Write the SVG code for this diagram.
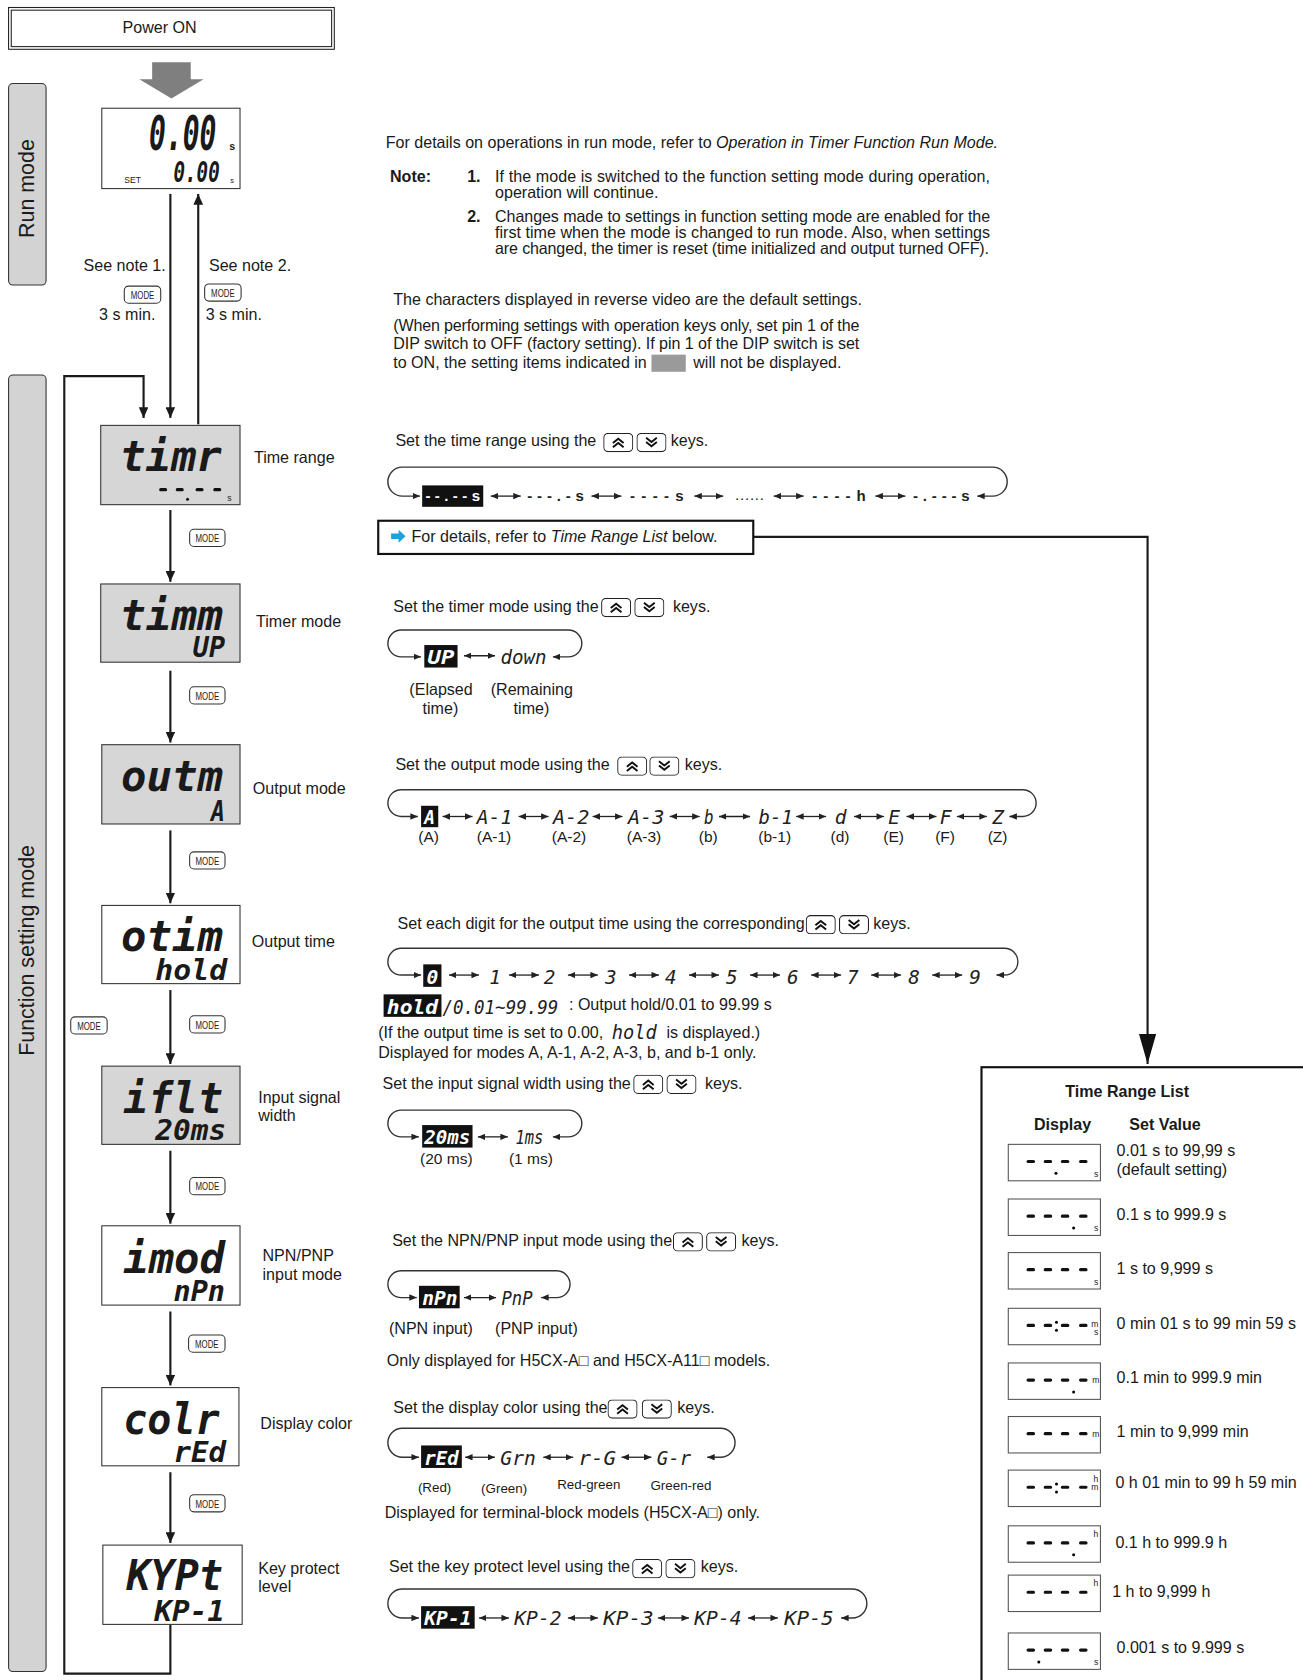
<svg xmlns="http://www.w3.org/2000/svg" xmlns:xlink="http://www.w3.org/1999/xlink" width="1303" height="1680" viewBox="0 0 1303 1680">
<style>
.t{font-family:"Liberation Sans",Arial,sans-serif;font-size:15px;fill:#1a1a1a}
.sm{font-size:14.5px}
.xs{font-size:12.5px}
.b{font-weight:bold}
.i{font-style:italic}
.lcd{font-family:"DejaVu Sans Mono",monospace;font-weight:bold;font-style:oblique;fill:#1a1a1a}
.seg{font-family:"DejaVu Sans Mono",monospace;font-style:oblique;font-size:18px;fill:#222}
.segw{font-family:"DejaVu Sans Mono",monospace;font-style:oblique;font-weight:bold;font-size:18px;fill:#fff}
.dash{font-family:"Liberation Sans",Arial,sans-serif;font-weight:bold;font-size:14px;fill:#222}
.dashw{font-family:"Liberation Sans",Arial,sans-serif;font-weight:bold;font-size:14px;fill:#fff}
.disp{stroke:#333;stroke-width:1}
.gray{fill:#d6d6d6}
.wh{fill:#fff}
.rev{fill:#111}
.side{fill:#d3d3d3;stroke:#333;stroke-width:1}
.flow{stroke:#1a1a1a;stroke-width:2;fill:none}
.loop{stroke:#333;stroke-width:1.3;fill:none}
.dbl{stroke:#222;stroke-width:1.2}
.mk rect{fill:#fff;stroke:#333;stroke-width:1}
.mk text{font-family:"Liberation Sans",Arial,sans-serif;font-size:9.5px;fill:#222}
.tb rect{fill:#fff;stroke:#555;stroke-width:1}
.sg{stroke:#111;stroke-width:3;stroke-linecap:round}
.un{font-family:"Liberation Sans",Arial,sans-serif;font-size:8px;fill:#222}
</style>
<defs>
<marker id="fa" markerUnits="userSpaceOnUse" markerWidth="10" markerHeight="9" refX="10" refY="4.5" orient="auto"><path d="M0,0 L10,4.5 L0,9 z" fill="#1a1a1a"/></marker>
<marker id="sa" markerUnits="userSpaceOnUse" markerWidth="7" markerHeight="6" refX="7" refY="3" orient="auto-start-reverse"><path d="M0,0 L7,3 L0,6 z" fill="#222"/></marker>
<marker id="big" markerUnits="userSpaceOnUse" markerWidth="28" markerHeight="16" refX="28" refY="8" orient="auto"><path d="M0,0 L28,8 L0,16 z" fill="#111"/></marker>
<symbol id="ku" viewBox="0 0 28 18"><rect x="0.5" y="0.5" width="27" height="17" rx="4" fill="#fff" stroke="#222"/><polyline points="9,9.5 14,5.5 19,9.5" fill="none" stroke="#111" stroke-width="1.8"/><polyline points="9,13.5 14,9.5 19,13.5" fill="none" stroke="#111" stroke-width="1.8"/></symbol>
<symbol id="kd" viewBox="0 0 28 18"><rect x="0.5" y="0.5" width="27" height="17" rx="4" fill="#fff" stroke="#222"/><polyline points="9,4.5 14,8.5 19,4.5" fill="none" stroke="#111" stroke-width="1.8"/><polyline points="9,8.5 14,12.5 19,8.5" fill="none" stroke="#111" stroke-width="1.8"/></symbol>
</defs>
<rect width="1303" height="1680" fill="#fff"/>
<g transform="scale(1.0715)">

<g id="power-on">
<rect x="8" y="7" width="304" height="39" fill="#fff" stroke="#222" stroke-width="1"/>
<rect x="10.5" y="9.5" width="299" height="34" fill="none" stroke="#222" stroke-width="1"/>
<text class="t" x="149" y="31" text-anchor="middle">Power ON</text>
<polygon points="142,58 178,58 178,74 190,74 160,92 130,74 142,74" fill="#7f7f7f"/>
</g>

<g id="run-mode-label">
<rect x="8" y="78" width="35" height="188" rx="4" class="side"/>
<text class="t" transform="translate(32,176) rotate(-90)" text-anchor="middle" style="font-size:20px">Run mode</text>
</g>
<g id="function-mode-label">
<rect x="8" y="350" width="35" height="1210" rx="4" class="side"/>
<text class="t" transform="translate(32,887) rotate(-90)" text-anchor="middle" style="font-size:20px">Function setting mode</text>
</g>

<g id="run-display">
<rect x="95" y="101" width="129" height="75" class="wh disp"/>
<text class="lcd" x="139" y="140" font-size="44" textLength="63" lengthAdjust="spacingAndGlyphs">0.00</text>
<text class="un" x="214" y="140" style="font-size:10px;font-weight:bold">s</text>
<text class="lcd" x="162" y="170" font-size="26" textLength="43" lengthAdjust="spacingAndGlyphs">0.00</text>
<text class="un" x="215" y="171" style="font-size:7px">s</text>
<text class="un" x="116" y="171">SET</text>
</g>

<g id="run-notes">
<text class="t" x="78" y="253">See note 1.</text>
<text class="t" x="195" y="253">See note 2.</text>
<text class="t" x="145" y="299" text-anchor="end">3 s min.</text>
<text class="t" x="192" y="299">3 s min.</text>
<g class="mk"><rect x="116" y="267" width="34" height="16" rx="4"/><text x="133" y="279" text-anchor="middle" textLength="22" lengthAdjust="spacingAndGlyphs">MODE</text></g>
<g class="mk"><rect x="191" y="265" width="34" height="16" rx="4"/><text x="208" y="277" text-anchor="middle" textLength="22" lengthAdjust="spacingAndGlyphs">MODE</text></g>
</g>

<g id="connectors">
<line class="flow" x1="159" y1="181" x2="159" y2="390" marker-end="url(#fa)"/>
<line class="flow" x1="185" y1="396" x2="185" y2="181" marker-end="url(#fa)"/>
<path class="flow" d="M159,1516 V1562 H60 V351 H134 V390" marker-end="url(#fa)"/>
<line class="flow" x1="159" y1="476" x2="159" y2="543" marker-end="url(#fa)"/>
<line class="flow" x1="159" y1="626" x2="159" y2="693" marker-end="url(#fa)"/>
<line class="flow" x1="159" y1="775" x2="159" y2="843" marker-end="url(#fa)"/>
<line class="flow" x1="159" y1="924" x2="159" y2="993" marker-end="url(#fa)"/>
<line class="flow" x1="159" y1="1074" x2="159" y2="1142" marker-end="url(#fa)"/>
<line class="flow" x1="159" y1="1224" x2="159" y2="1293" marker-end="url(#fa)"/>
<line class="flow" x1="159" y1="1374" x2="159" y2="1440" marker-end="url(#fa)"/>
<path class="flow" d="M703,501 H1071 V993" marker-end="url(#big)"/>
<g class="mk"><rect x="177" y="494" width="33" height="16" rx="4"/><text x="193.5" y="506" text-anchor="middle" textLength="22" lengthAdjust="spacingAndGlyphs">MODE</text></g>
<g class="mk"><rect x="177" y="641" width="33" height="16" rx="4"/><text x="193.5" y="653" text-anchor="middle" textLength="22" lengthAdjust="spacingAndGlyphs">MODE</text></g>
<g class="mk"><rect x="177" y="795" width="33" height="16" rx="4"/><text x="193.5" y="807" text-anchor="middle" textLength="22" lengthAdjust="spacingAndGlyphs">MODE</text></g>
<g class="mk"><rect x="177" y="948" width="33" height="16" rx="4"/><text x="193.5" y="960" text-anchor="middle" textLength="22" lengthAdjust="spacingAndGlyphs">MODE</text></g>
<g class="mk"><rect x="66" y="949" width="34" height="16" rx="4"/><text x="83" y="961" text-anchor="middle" textLength="22" lengthAdjust="spacingAndGlyphs">MODE</text></g>
<g class="mk"><rect x="177" y="1099" width="33" height="16" rx="4"/><text x="193.5" y="1111" text-anchor="middle" textLength="22" lengthAdjust="spacingAndGlyphs">MODE</text></g>
<g class="mk"><rect x="176" y="1246" width="34" height="16" rx="4"/><text x="193" y="1258" text-anchor="middle" textLength="22" lengthAdjust="spacingAndGlyphs">MODE</text></g>
<g class="mk"><rect x="177" y="1395" width="33" height="16" rx="4"/><text x="193.5" y="1407" text-anchor="middle" textLength="22" lengthAdjust="spacingAndGlyphs">MODE</text></g>
</g>

<g id="node-time-range">
<rect x="94" y="397" width="130" height="74" class="gray disp"/>
<text class="lcd" x="112" y="440" font-size="40" textLength="95" lengthAdjust="spacingAndGlyphs">timr</text>
<path class="sg" d="M150,457h4.5M165.5,457h4.5M184,457h4.5M200.5,457h4.5"/>
<circle cx="175" cy="466" r="1.4" fill="#111"/>
<text class="un" x="212" y="468">s</text>
<text class="t" x="237" y="432">Time range</text>
</g>
<g id="node-timer-mode">
<rect x="94" y="545" width="130" height="73" class="gray disp"/>
<text class="lcd" x="112" y="588" font-size="40" textLength="96" lengthAdjust="spacingAndGlyphs">timm</text>
<text class="lcd" x="180" y="613" font-size="26" textLength="30" lengthAdjust="spacingAndGlyphs">UP</text>
<text class="t" x="239" y="585">Timer mode</text>
</g>
<g id="node-output-mode">
<rect x="95" y="695" width="129" height="74" class="gray disp"/>
<text class="lcd" x="113" y="738" font-size="40" textLength="95" lengthAdjust="spacingAndGlyphs">outm</text>
<text class="lcd" x="197" y="766" font-size="26" textLength="13" lengthAdjust="spacingAndGlyphs">A</text>
<text class="t" x="236" y="741">Output mode</text>
</g>
<g id="node-output-time">
<rect x="95" y="845" width="129" height="73" class="wh disp"/>
<text class="lcd" x="113" y="888" font-size="40" textLength="95" lengthAdjust="spacingAndGlyphs">otim</text>
<text class="lcd" x="145" y="915" font-size="26" textLength="67" lengthAdjust="spacingAndGlyphs">hold</text>
<text class="t" x="235" y="884">Output time</text>
</g>
<g id="node-input-width">
<rect x="95" y="995" width="129" height="73" class="gray disp"/>
<text class="lcd" x="115" y="1039" font-size="40" textLength="93" lengthAdjust="spacingAndGlyphs">iflt</text>
<text class="lcd" x="145" y="1064" font-size="26" textLength="66" lengthAdjust="spacingAndGlyphs">20ms</text>
<text class="t" x="241" y="1029">Input signal</text>
<text class="t" x="241" y="1046">width</text>
</g>
<g id="node-npn-pnp">
<rect x="95" y="1144" width="129" height="74" class="wh disp"/>
<text class="lcd" x="115" y="1188" font-size="40" textLength="95" lengthAdjust="spacingAndGlyphs">imod</text>
<text class="lcd" x="162" y="1214" font-size="26" textLength="48" lengthAdjust="spacingAndGlyphs">nPn</text>
<text class="t" x="245" y="1177">NPN/PNP</text>
<text class="t" x="245" y="1195">input mode</text>
</g>
<g id="node-display-color">
<rect x="95" y="1295" width="128" height="73" class="wh disp"/>
<text class="lcd" x="115" y="1338" font-size="40" textLength="90" lengthAdjust="spacingAndGlyphs">colr</text>
<text class="lcd" x="162" y="1364" font-size="26" textLength="49" lengthAdjust="spacingAndGlyphs">rEd</text>
<text class="t" x="243" y="1334">Display color</text>
</g>
<g id="node-key-protect">
<rect x="96" y="1442" width="130" height="74" class="wh disp"/>
<text class="lcd" x="118" y="1484" font-size="40" textLength="90" lengthAdjust="spacingAndGlyphs">KYPt</text>
<text class="lcd" x="144" y="1513" font-size="26" textLength="66" lengthAdjust="spacingAndGlyphs">KP-1</text>
<text class="t" x="241" y="1469">Key protect</text>
<text class="t" x="241" y="1486">level</text>
</g>

<g id="notes">
<text class="t" x="360" y="138">For details on operations in run mode, refer to <tspan class="i">Operation in Timer Function Run Mode.</tspan></text>
<text class="t b" x="364" y="170">Note:</text>
<text class="t b" x="436" y="170">1.</text>
<text class="t" x="462" y="170" textLength="462" lengthAdjust="spacing">If the mode is switched to the function setting mode during operation,</text>
<text class="t" x="462" y="185">operation will continue.</text>
<text class="t b" x="436" y="207">2.</text>
<text class="t" x="462" y="207" textLength="462" lengthAdjust="spacing">Changes made to settings in function setting mode are enabled for the</text>
<text class="t" x="462" y="222" textLength="462" lengthAdjust="spacing">first time when the mode is changed to run mode. Also, when settings</text>
<text class="t" x="462" y="237" textLength="461" lengthAdjust="spacing">are changed, the timer is reset (time initialized and output turned OFF).</text>
<text class="t" x="367" y="285">The characters displayed in reverse video are the default settings.</text>
<text class="t" x="367" y="309" textLength="435" lengthAdjust="spacing">(When performing settings with operation keys only, set pin 1 of the</text>
<text class="t" x="367" y="326" textLength="435" lengthAdjust="spacing">DIP switch to OFF (factory setting). If pin 1 of the DIP switch is set</text>
<text class="t" x="367" y="343">to ON, the setting items indicated in</text>
<rect x="608" y="331" width="32" height="16" fill="#9a9a9a"/>
<text class="t" x="647" y="343">will not be displayed.</text>
</g>

<g id="set-time-range">
<text class="t" x="369" y="416">Set the time range using the</text>
<use href="#ku" x="563" y="404" width="28" height="18"/><use href="#kd" x="594" y="404" width="28" height="18"/>
<text class="t" x="626" y="416">keys.</text>
<path class="loop" d="M392,463 H375.5 A13.5 13.5 0 0 1 375.5,436 H926.5 A13.5 13.5 0 0 1 926.5,463 H912" marker-start="url(#sa)" marker-end="url(#sa)"/>
<rect x="394" y="453" width="57" height="20" class="rev"/>
<text class="dashw" x="397" y="468" textLength="51" lengthAdjust="spacing">--.--s</text>
<text class="dash" x="492" y="468" textLength="53" lengthAdjust="spacing">---.-s</text>
<text class="dash" x="588" y="468" textLength="50" lengthAdjust="spacing">----s</text>
<text class="dash" x="686" y="467" textLength="27" lengthAdjust="spacing" style="font-weight:normal">......</text>
<text class="dash" x="758" y="468" textLength="50" lengthAdjust="spacing">----h</text>
<text class="dash" x="852" y="468" textLength="53" lengthAdjust="spacing">-.---s</text>
<line class="dbl" x1="458" y1="463" x2="486" y2="463" marker-start="url(#sa)" marker-end="url(#sa)"/>
<line class="dbl" x1="552" y1="463" x2="580" y2="463" marker-start="url(#sa)" marker-end="url(#sa)"/>
<line class="dbl" x1="648" y1="463" x2="675" y2="463" marker-start="url(#sa)" marker-end="url(#sa)"/>
<line class="dbl" x1="722" y1="463" x2="750" y2="463" marker-start="url(#sa)" marker-end="url(#sa)"/>
<line class="dbl" x1="817" y1="463" x2="845" y2="463" marker-start="url(#sa)" marker-end="url(#sa)"/>
</g>

<g id="details-box">
<rect x="353" y="486" width="350" height="31" fill="#fff" stroke="#111" stroke-width="2"/>
<polygon points="365,498 372,498 372,494.5 378.5,500.5 372,506.5 372,503 365,503" fill="#1ea0dc"/>
<text class="t" x="384" y="506">For details, refer to <tspan class="i">Time Range List</tspan> below.</text>
</g>

<g id="set-timer-mode">
<text class="t" x="367" y="571">Set the timer mode using the</text>
<use href="#ku" x="561" y="558" width="28" height="18"/><use href="#kd" x="592" y="558" width="28" height="18"/>
<text class="t" x="628" y="571">keys.</text>
<path class="loop" d="M393,613 H374.5 A12.5 12.5 0 0 1 374.5,588 H530.5 A12.5 12.5 0 0 1 530.5,613 H516" marker-start="url(#sa)" marker-end="url(#sa)"/>
<rect x="396" y="602" width="31" height="21" class="rev"/>
<text class="segw" x="399" y="620" textLength="25" lengthAdjust="spacingAndGlyphs">UP</text>
<line class="dbl" x1="433" y1="612" x2="462" y2="612" marker-start="url(#sa)" marker-end="url(#sa)"/>
<text class="seg" x="467" y="620" textLength="43" lengthAdjust="spacingAndGlyphs">down</text>
<text class="t" x="382" y="649">(Elapsed</text>
<text class="t" x="411" y="666" text-anchor="middle">time)</text>
<text class="t" x="458" y="649">(Remaining</text>
<text class="t" x="496" y="666" text-anchor="middle">time)</text>
</g>

<g id="set-output-mode">
<text class="t" x="369" y="719">Set the output mode using the</text>
<use href="#ku" x="576" y="706" width="28" height="18"/><use href="#kd" x="606" y="706" width="28" height="18"/>
<text class="t" x="639" y="719">keys.</text>
<path class="loop" d="M390,762 H374.5 A12.5 12.5 0 0 1 374.5,737 H954.5 A12.5 12.5 0 0 1 954.5,762 H942" marker-start="url(#sa)" marker-end="url(#sa)"/>
<rect x="393" y="752" width="16" height="20" class="rev"/>
<text class="segw" x="396" y="769" textLength="10" lengthAdjust="spacingAndGlyphs">A</text>
<text class="seg" x="445" y="769" textLength="33" lengthAdjust="spacingAndGlyphs">A-1</text>
<text class="seg" x="516" y="769" textLength="34" lengthAdjust="spacingAndGlyphs">A-2</text>
<text class="seg" x="586" y="769" textLength="34" lengthAdjust="spacingAndGlyphs">A-3</text>
<text class="seg" x="657" y="769" textLength="9" lengthAdjust="spacingAndGlyphs">b</text>
<text class="seg" x="708" y="769" textLength="32" lengthAdjust="spacingAndGlyphs">b-1</text>
<text class="seg" x="779" y="769" textLength="11" lengthAdjust="spacingAndGlyphs">d</text>
<text class="seg" x="829" y="769" textLength="11" lengthAdjust="spacingAndGlyphs">E</text>
<text class="seg" x="877" y="769" textLength="11" lengthAdjust="spacingAndGlyphs">F</text>
<text class="seg" x="926" y="769" textLength="11" lengthAdjust="spacingAndGlyphs">Z</text>
<line class="dbl" x1="413" y1="762" x2="441" y2="762" marker-start="url(#sa)" marker-end="url(#sa)"/>
<line class="dbl" x1="484" y1="762" x2="512" y2="762" marker-start="url(#sa)" marker-end="url(#sa)"/>
<line class="dbl" x1="553" y1="762" x2="581" y2="762" marker-start="url(#sa)" marker-end="url(#sa)"/>
<line class="dbl" x1="625" y1="762" x2="653" y2="762" marker-start="url(#sa)" marker-end="url(#sa)"/>
<line class="dbl" x1="671" y1="762" x2="700" y2="762" marker-start="url(#sa)" marker-end="url(#sa)"/>
<line class="dbl" x1="743" y1="762" x2="771" y2="762" marker-start="url(#sa)" marker-end="url(#sa)"/>
<line class="dbl" x1="797" y1="762" x2="825" y2="762" marker-start="url(#sa)" marker-end="url(#sa)"/>
<line class="dbl" x1="846" y1="762" x2="874" y2="762" marker-start="url(#sa)" marker-end="url(#sa)"/>
<line class="dbl" x1="893" y1="762" x2="921" y2="762" marker-start="url(#sa)" marker-end="url(#sa)"/>
<g class="t sm" text-anchor="middle">
<text x="400" y="786">(A)</text><text x="461" y="786">(A-1)</text><text x="531" y="786">(A-2)</text><text x="601" y="786">(A-3)</text><text x="661" y="786">(b)</text><text x="723" y="786">(b-1)</text><text x="784" y="786">(d)</text><text x="834" y="786">(E)</text><text x="882" y="786">(F)</text><text x="931" y="786">(Z)</text>
</g>
</g>

<g id="set-output-time">
<text class="t" x="371" y="867">Set each digit for the output time using the corresponding</text>
<use href="#ku" x="752" y="854" width="28" height="18"/><use href="#kd" x="783" y="854" width="28" height="18"/>
<text class="t" x="815" y="867">keys.</text>
<path class="loop" d="M393,910 H374.5 A12.5 12.5 0 0 1 374.5,885 H937.5 A12.5 12.5 0 0 1 937.5,910 H930" marker-start="url(#sa)" marker-end="url(#sa)"/>
<rect x="395" y="900" width="17" height="21" class="rev"/>
<text class="segw" x="398" y="918" textLength="11" lengthAdjust="spacingAndGlyphs">0</text>
<g class="seg" text-anchor="middle">
<text x="462" y="918">1</text><text x="513" y="918">2</text><text x="570" y="918">3</text><text x="626" y="918">4</text><text x="683" y="918">5</text><text x="740" y="918">6</text><text x="796" y="918">7</text><text x="853" y="918">8</text><text x="910" y="918">9</text>
</g>
<line class="dbl" x1="419" y1="910" x2="447" y2="910" marker-start="url(#sa)" marker-end="url(#sa)"/>
<line class="dbl" x1="475" y1="910" x2="503" y2="910" marker-start="url(#sa)" marker-end="url(#sa)"/>
<line class="dbl" x1="530" y1="910" x2="558" y2="910" marker-start="url(#sa)" marker-end="url(#sa)"/>
<line class="dbl" x1="587" y1="910" x2="615" y2="910" marker-start="url(#sa)" marker-end="url(#sa)"/>
<line class="dbl" x1="643" y1="910" x2="671" y2="910" marker-start="url(#sa)" marker-end="url(#sa)"/>
<line class="dbl" x1="700" y1="910" x2="728" y2="910" marker-start="url(#sa)" marker-end="url(#sa)"/>
<line class="dbl" x1="757" y1="910" x2="785" y2="910" marker-start="url(#sa)" marker-end="url(#sa)"/>
<line class="dbl" x1="813" y1="910" x2="841" y2="910" marker-start="url(#sa)" marker-end="url(#sa)"/>
<line class="dbl" x1="870" y1="910" x2="898" y2="910" marker-start="url(#sa)" marker-end="url(#sa)"/>
<rect x="358" y="928" width="54" height="21" class="rev"/>
<text class="segw" x="361" y="946" textLength="48" lengthAdjust="spacingAndGlyphs">hold</text>
<text class="seg" x="413" y="946" textLength="108" lengthAdjust="spacingAndGlyphs">/0.01~99.99</text>
<text class="t" x="531" y="943">: Output hold/0.01 to 99.99 s</text>
<text class="t" x="353" y="969">(If the output time is set to 0.00,</text>
<text class="seg" x="571" y="970" textLength="42" lengthAdjust="spacingAndGlyphs">hold</text>
<text class="t" x="622" y="969">is displayed.)</text>
<text class="t" x="353" y="987">Displayed for modes A, A-1, A-2, A-3, b, and b-1 only.</text>
</g>

<g id="set-input-width">
<text class="t" x="357" y="1016">Set the input signal width using the</text>
<use href="#ku" x="591" y="1003" width="28" height="18"/><use href="#kd" x="622" y="1003" width="28" height="18"/>
<text class="t" x="658" y="1016">keys.</text>
<path class="loop" d="M391,1061 H374.5 A12.5 12.5 0 0 1 374.5,1036 H530.5 A12.5 12.5 0 0 1 530.5,1061 H516" marker-start="url(#sa)" marker-end="url(#sa)"/>
<rect x="394" y="1050" width="47" height="21" class="rev"/>
<text class="segw" x="396" y="1068" textLength="43" lengthAdjust="spacingAndGlyphs">20ms</text>
<line class="dbl" x1="446" y1="1061" x2="474" y2="1061" marker-start="url(#sa)" marker-end="url(#sa)"/>
<text class="seg" x="481" y="1068" textLength="26" lengthAdjust="spacingAndGlyphs">1ms</text>
<text class="t sm" x="392" y="1086">(20 ms)</text>
<text class="t sm" x="475" y="1086">(1 ms)</text>
</g>

<g id="set-npn-pnp">
<text class="t" x="366" y="1163">Set the NPN/PNP input mode using the</text>
<use href="#ku" x="628" y="1150" width="28" height="18"/><use href="#kd" x="659" y="1150" width="28" height="18"/>
<text class="t" x="692" y="1163">keys.</text>
<path class="loop" d="M389,1211 H374.5 A12.5 12.5 0 0 1 374.5,1186 H519.5 A12.5 12.5 0 0 1 519.5,1211 H505" marker-start="url(#sa)" marker-end="url(#sa)"/>
<rect x="391" y="1200" width="38" height="21" class="rev"/>
<text class="segw" x="394" y="1218" textLength="33" lengthAdjust="spacingAndGlyphs">nPn</text>
<line class="dbl" x1="433" y1="1211" x2="463" y2="1211" marker-start="url(#sa)" marker-end="url(#sa)"/>
<text class="seg" x="468" y="1218" textLength="29" lengthAdjust="spacingAndGlyphs">PnP</text>
<text class="t" x="363" y="1245">(NPN input)</text>
<text class="t" x="462" y="1245">(PNP input)</text>
<text class="t" x="361" y="1275">Only displayed for H5CX-A□ and H5CX-A11□ models.</text>
</g>

<g id="set-display-color">
<text class="t" x="367" y="1319">Set the display color using the</text>
<use href="#ku" x="567" y="1306" width="28" height="18"/><use href="#kd" x="599" y="1306" width="28" height="18"/>
<text class="t" x="632" y="1319">keys.</text>
<path class="loop" d="M391,1360 H375.5 A13.5 13.5 0 0 1 375.5,1333 H672.5 A13.5 13.5 0 0 1 672.5,1360 H660" marker-start="url(#sa)" marker-end="url(#sa)"/>
<rect x="393" y="1349" width="38" height="21" class="rev"/>
<text class="segw" x="396" y="1367" textLength="32" lengthAdjust="spacingAndGlyphs">rEd</text>
<line class="dbl" x1="434" y1="1360" x2="462" y2="1360" marker-start="url(#sa)" marker-end="url(#sa)"/>
<text class="seg" x="467" y="1367" textLength="33" lengthAdjust="spacingAndGlyphs">Grn</text>
<line class="dbl" x1="507" y1="1360" x2="535" y2="1360" marker-start="url(#sa)" marker-end="url(#sa)"/>
<text class="seg" x="540" y="1367" textLength="35" lengthAdjust="spacingAndGlyphs">r-G</text>
<line class="dbl" x1="580" y1="1360" x2="608" y2="1360" marker-start="url(#sa)" marker-end="url(#sa)"/>
<text class="seg" x="613" y="1367" textLength="32" lengthAdjust="spacingAndGlyphs">G-r</text>
<text class="t xs" x="390" y="1392">(Red)</text>
<text class="t xs" x="449" y="1393">(Green)</text>
<text class="t xs" x="520" y="1390">Red-green</text>
<text class="t xs" x="607" y="1391">Green-red</text>
<text class="t" x="359" y="1417">Displayed for terminal-block models (H5CX-A□) only.</text>
</g>

<g id="set-key-protect">
<text class="t" x="363" y="1467">Set the key protect level using the</text>
<use href="#ku" x="590" y="1455" width="28" height="18"/><use href="#kd" x="621" y="1455" width="28" height="18"/>
<text class="t" x="654" y="1467">keys.</text>
<path class="loop" d="M391,1510 H375.5 A13.5 13.5 0 0 1 375.5,1483 H795.5 A13.5 13.5 0 0 1 795.5,1510 H785" marker-start="url(#sa)" marker-end="url(#sa)"/>
<rect x="393" y="1499" width="50" height="21" class="rev"/>
<text class="segw" x="396" y="1517" textLength="44" lengthAdjust="spacingAndGlyphs">KP-1</text>
<line class="dbl" x1="447" y1="1510" x2="475" y2="1510" marker-start="url(#sa)" marker-end="url(#sa)"/>
<text class="seg" x="480" y="1517" textLength="44" lengthAdjust="spacingAndGlyphs">KP-2</text>
<line class="dbl" x1="530" y1="1510" x2="558" y2="1510" marker-start="url(#sa)" marker-end="url(#sa)"/>
<text class="seg" x="563" y="1517" textLength="47" lengthAdjust="spacingAndGlyphs">KP-3</text>
<line class="dbl" x1="614" y1="1510" x2="643" y2="1510" marker-start="url(#sa)" marker-end="url(#sa)"/>
<text class="seg" x="648" y="1517" textLength="44" lengthAdjust="spacingAndGlyphs">KP-4</text>
<line class="dbl" x1="698" y1="1510" x2="726" y2="1510" marker-start="url(#sa)" marker-end="url(#sa)"/>
<text class="seg" x="732" y="1517" textLength="46" lengthAdjust="spacingAndGlyphs">KP-5</text>
</g>

<g id="time-range-list">
<rect x="916" y="996" width="330" height="600" fill="#fff" stroke="#111" stroke-width="2"/>
<text class="t b" x="1052" y="1024" text-anchor="middle">Time Range List</text>
<text class="t b" x="965" y="1055">Display</text>
<text class="t b" x="1054" y="1055">Set Value</text>
<g class="tb">
<g transform="translate(941,1068)"><rect width="86" height="34"/><path class="sg" d="M18.5,16h5M34.5,16h5M50.5,16h5M67.5,16h5"/><circle cx="44.5" cy="27" r="1.4"/><text class="un" x="84" y="30" text-anchor="end">s</text></g>
<g transform="translate(941,1119)"><rect width="86" height="34"/><path class="sg" d="M18.5,16h5M34.5,16h5M50.5,16h5M67.5,16h5"/><circle cx="61" cy="27" r="1.4"/><text class="un" x="84" y="30" text-anchor="end">s</text></g>
<g transform="translate(941,1169)"><rect width="86" height="34"/><path class="sg" d="M18.5,16h5M34.5,16h5M50.5,16h5M67.5,16h5"/><text class="un" x="84" y="30" text-anchor="end">s</text></g>
<g transform="translate(941,1221)"><rect width="86" height="34"/><path class="sg" d="M18.5,16h5M34.5,16h5M50.5,16h5M67.5,16h5"/><circle cx="45" cy="13" r="1.4"/><circle cx="45" cy="20.5" r="1.4"/><text class="un" x="84" y="17" text-anchor="end">m</text><text class="un" x="84" y="25" text-anchor="end">s</text></g>
<g transform="translate(941,1272)"><rect width="86" height="34"/><path class="sg" d="M18.5,16h5M34.5,16h5M50.5,16h5M67.5,16h5"/><circle cx="61" cy="27" r="1.4"/><text class="un" x="85" y="19" text-anchor="end">m</text></g>
<g transform="translate(941,1322)"><rect width="86" height="34"/><path class="sg" d="M18.5,16h5M34.5,16h5M50.5,16h5M67.5,16h5"/><text class="un" x="85" y="19" text-anchor="end">m</text></g>
<g transform="translate(941,1372)"><rect width="86" height="34"/><path class="sg" d="M18.5,16h5M34.5,16h5M50.5,16h5M67.5,16h5"/><circle cx="45" cy="13" r="1.4"/><circle cx="45" cy="20.5" r="1.4"/><text class="un" x="84" y="11" text-anchor="end">h</text><text class="un" x="84" y="19" text-anchor="end">m</text></g>
<g transform="translate(941,1424)"><rect width="86" height="34"/><path class="sg" d="M18.5,16h5M34.5,16h5M50.5,16h5M67.5,16h5"/><circle cx="61" cy="27" r="1.4"/><text class="un" x="84" y="10" text-anchor="end">h</text></g>
<g transform="translate(941,1470)"><rect width="86" height="34"/><path class="sg" d="M18.5,16h5M34.5,16h5M50.5,16h5M67.5,16h5"/><text class="un" x="84" y="10" text-anchor="end">h</text></g>
<g transform="translate(941,1524)"><rect width="86" height="34"/><path class="sg" d="M18.5,16h5M34.5,16h5M50.5,16h5M67.5,16h5"/><circle cx="28.5" cy="27" r="1.4"/><text class="un" x="84" y="30" text-anchor="end">s</text></g>
</g>
<text class="t" x="1042" y="1079">0.01 s to 99,99 s</text>
<text class="t" x="1042" y="1097">(default setting)</text>
<text class="t" x="1042" y="1139">0.1 s to 999.9 s</text>
<text class="t" x="1042" y="1189">1 s to 9,999 s</text>
<text class="t" x="1042" y="1240">0 min 01 s to 99 min 59 s</text>
<text class="t" x="1042" y="1291">0.1 min to 999.9 min</text>
<text class="t" x="1042" y="1341">1 min to 9,999 min</text>
<text class="t" x="1041" y="1389">0 h 01 min to 99 h 59 min</text>
<text class="t" x="1041" y="1445">0.1 h to 999.9 h</text>
<text class="t" x="1038" y="1490">1 h to 9,999 h</text>
<text class="t" x="1042" y="1543">0.001 s to 9.999 s</text>
</g>

</g>
</svg>
